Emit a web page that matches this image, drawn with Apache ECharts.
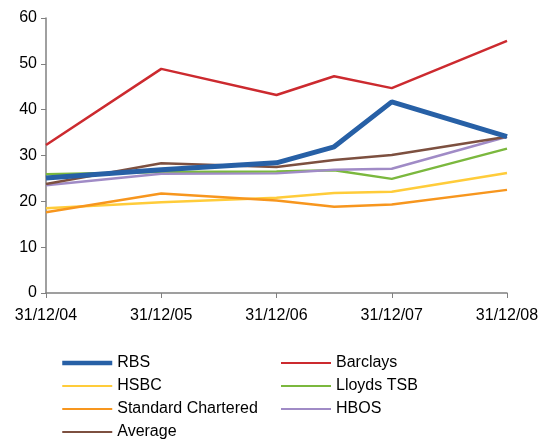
<!DOCTYPE html>
<html>
<head>
<meta charset="utf-8">
<script src="https://cdn.jsdelivr.net/npm/echarts@6/dist/echarts.min.js"></script>
<style>
  html, body { margin: 0; padding: 0; background: #fff; }
  #chart { width: 542px; height: 439px; }
</style>
</head>
<body>
<div id="chart"></div>
<script>
// year-end positions; 2006.5 is the mid-2007 reading
const dates = [2004, 2005, 2006, 2006.5, 2007, 2008];
const rbs = [25.1, 26.9, 28.4, 31.9, 41.7, 34.1];
const barclays = [32.3, 48.9, 43.2, 47.3, 44.7, 55.0];
const hsbc = [18.5, 19.8, 20.8, 21.8, 22.1, 26.2];
const lloyds = [25.9, 26.4, 26.5, 26.8, 24.9, 31.5];
const stanChart = [17.6, 21.7, 20.2, 18.8, 19.3, 22.5];
const hbos = [23.5, 26.0, 26.1, 26.9, 27.1, 34.1];
const average = [23.8, 28.3, 27.5, 29.0, 30.1, 34.1];
const yTicks = { min: 0, max: 60, interval: 10 };

const font = "Liberation Sans, Arial, sans-serif";
const chart = echarts.init(document.getElementById("chart"));

function pairs(values) {
  return dates.map((d, i) => [d, values[i]]);
}

function line(name, values, color, width, z) {
  return {
    name,
    type: "line",
    symbol: "none",
    z,
    color,
    lineStyle: { color, width },
    data: pairs(values),
  };
}

const legendBase = {
  orient: "vertical",
  top: 355,
  height: 120,
  padding: 0,
  itemWidth: 50,
  itemHeight: 14,
  itemGap: 7,
  itemStyle: { opacity: 0 },
  textStyle: { fontFamily: font, fontSize: 16, lineHeight: 14, color: "#000" },
};

chart.setOption({
  animation: false,
  grid: { left: 46, right: 35, top: 18, bottom: 146 },
  legend: [
    {
      ...legendBase,
      left: 60,
      data: [{ name: "RBS", lineStyle: { width: 4.5 } }, "HSBC", "Standard Chartered", "Average"],
    },
    { ...legendBase, left: 280, data: ["Barclays", "Lloyds TSB", "HBOS"] },
  ],
  xAxis: {
    type: "value",
    min: 2004,
    max: 2008,
    interval: 1,
    splitLine: { show: false },
    axisLine: { lineStyle: { color: "#808080", width: 1.5 } },
    axisTick: { show: true, length: 5, lineStyle: { color: "#808080" } },
    axisLabel: {
      margin: 15,
      fontFamily: font,
      fontSize: 16,
      color: "#000",
      formatter: (v) => "31/12/" + String(v).slice(2),
    },
  },
  yAxis: {
    type: "value",
    ...yTicks,
    splitLine: { show: false },
    axisLine: { show: true, lineStyle: { color: "#808080", width: 1.5 } },
    axisTick: { show: true, length: 5, lineStyle: { color: "#808080" } },
    axisLabel: { margin: 9, fontFamily: font, fontSize: 16, color: "#000" },
  },
  series: [
    line("RBS", rbs, "#2760a6", 5, 10),
    line("Barclays", barclays, "#cc2a2f", 2.5, 5),
    line("HSBC", hsbc, "#ffcc3a", 2.5, 3),
    line("Lloyds TSB", lloyds, "#7bb83e", 2.5, 4),
    line("Standard Chartered", stanChart, "#f7961e", 2.5, 4),
    line("HBOS", hbos, "#a08bc6", 2.5, 4),
    line("Average", average, "#7d5040", 2.5, 6),
  ],
});
</script>
</body>
</html>
